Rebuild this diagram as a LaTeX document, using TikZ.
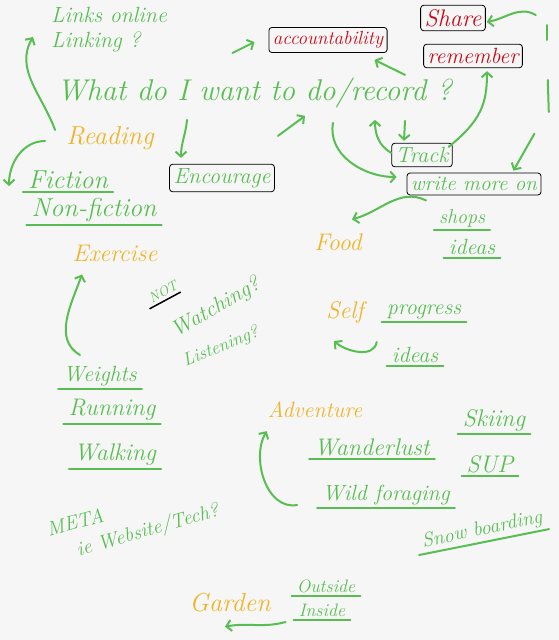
\documentclass[tikz,border=0pt]{standalone}
\usepackage{amsmath}
\usepackage{tikz}
\usetikzlibrary{arrows.meta, positioning}

\definecolor{pen}{RGB}{88,190,82}
\definecolor{hl}{RGB}{240,180,40}
\definecolor{ink}{RGB}{200,10,25}
\definecolor{paper}{RGB}{246,246,246}

\tikzset{
  hw/.style={font=\itshape\fontsize{#1}{#1}\selectfont, inner sep=1pt},
  gr/.style={hw=#1, text=pen},
  yl/.style={hw=#1, text=hl},
  rd/.style={hw=#1, text=ink},
  frame/.style={draw=black, thick, rounded corners=3pt, inner sep=4pt},
  uline/.style={draw=pen, line width=2pt, line cap=round},
  pointer/.style={draw=pen, line width=2pt, line cap=round, -{Straight Barb[length=5pt, width=11pt]}},
}

\begin{document}
\begin{tikzpicture}[x=1pt, y=-1pt]
\fill[paper] (0,0) rectangle (559,640);
\useasboundingbox (0,0) rectangle (559,640);

\node[gr=22, anchor=west] (link1) at (50,15) {Links online};
\node[gr=22, anchor=west] (link2) at (50,42) {Linking ?};
\node[gr=30, anchor=west] (what) at (56,93) {What do I want to do/record ?};

\node[rd=19, frame] (acc) at (328,40) {accountability};
\node[rd=24, frame] (share) at (453,18) {Share};
\node[rd=22, frame] (remem) at (473,56) {remember};

\node[yl=26] (read) at (110,138) {Reading};
\node[gr=26] (fic) at (68,180) {Fiction};
\node[gr=26] (nonfic) at (94,210) {Non-fiction};
\node[gr=22, frame] (enc) at (222,178) {Encourage};
\node[yl=24] (exer) at (115,253) {Exercise};

\node[gr=22, frame] (track) at (422,155) {Track};
\node[gr=21, frame] (wmo) at (474,184) {write more on};

\node[yl=24] (food) at (338,242) {Food};
\node[gr=20] (shops) at (462,218) {shops};
\node[gr=22] (ideasA) at (472,247) {ideas};

\node[yl=24] (self) at (345,312) {Self};
\node[gr=22] (prog) at (424,312) {progress};
\node[gr=22] (ideasB) at (415,355) {ideas};

\node[gr=14, rotate=30] (not) at (163,292) {NOT};
\node[gr=22, rotate=30] (watch) at (216,308) {Watching?};
\node[gr=18, rotate=22] (listen) at (221,347) {Listening?};

\node[gr=22] (weights) at (100,376) {Weights};
\node[gr=24] (running) at (112,410) {Running};
\node[gr=24] (walking) at (115,455) {Walking};

\node[yl=22] (adv) at (315,410) {Adventure};
\node[gr=24] (wander) at (372,447) {Wanderlust};
\node[gr=22] (wild) at (386,495) {Wild foraging};

\node[gr=24] (ski) at (494,420) {Skiing};
\node[gr=24] (sup) at (490,464) {SUP};
\node[gr=20, rotate=12] (snow) at (482,530) {Snow boarding};

\node[gr=20, rotate=15] (meta) at (75,522) {META};
\node[gr=20, rotate=16] (web) at (148,531) {ie Website/Tech?};

\node[yl=26] (garden) at (230,603) {Garden};
\node[gr=18] (outs) at (326,586) {Outside};
\node[gr=18] (ins) at (322,610) {Inside};

\foreach \n in {fic, nonfic, shops, ideasA, prog, ideasB, weights, running, walking, wander, wild, ski, sup, snow, outs, ins}
  \draw[uline] ([xshift=-4pt, yshift=-2pt]\n.south west) -- ([xshift=4pt, yshift=-2pt]\n.south east);

\draw[black, line width=1.5pt, line cap=round] ([xshift=-2pt, yshift=-3pt]not.south west) -- ([yshift=-3pt]not.south east);

\draw[pointer] ([xshift=-10pt, yshift=8pt]read.west) to[out=110, in=-120] ([xshift=-17pt, yshift=5pt]link2.west);
\draw[pointer] ([xshift=-36pt, yshift=-13pt]acc.west) -- ([xshift=-14pt, yshift=-2pt]acc.west);
\draw[pointer] ([xshift=-20pt, yshift=-3pt]read.west) to[out=180, in=90] ([xshift=-18pt, yshift=-6pt]fic.west);
\draw[pointer] ([xshift=-35pt, yshift=44pt]enc.north) to[out=-95, in=90] ([xshift=-41pt, yshift=6pt]enc.north);
\draw[pointer] ([xshift=56pt, yshift=28pt]enc.north) -- ([xshift=83pt, yshift=48pt]enc.north);

\draw[pointer] ([xshift=-17pt, yshift=68pt]track.north) -- ([xshift=-13pt, yshift=-7pt]acc.south east);
\draw[pointer] ([yshift=2pt]track.west) to[out=150, in=-90] ([xshift=-47pt, yshift=23pt]track.north);
\draw[pointer] ([xshift=-17pt, yshift=22pt]track.north) -- ([xshift=-18pt, yshift=2pt]track.north);
\draw[pointer] ([xshift=-4pt, yshift=-4pt]track.north east) .. controls ([xshift=28pt, yshift=22pt]track.north east) and ([xshift=14pt, yshift=-36pt]remem.south) .. ([xshift=14pt, yshift=-3pt]remem.south);
\draw[pointer] ([xshift=50pt, yshift=3pt]share.east) to[out=150, in=10] ([xshift=1pt, yshift=-4pt]share.east);
\draw[uline] ([xshift=61pt, yshift=-7pt]share.east) -- ([xshift=61pt, yshift=-22pt]share.east);
\draw[uline] ([xshift=25pt, yshift=-24pt]remem.east) -- ([xshift=26pt, yshift=-56pt]remem.east);
\draw[pointer] ([xshift=-7pt, yshift=39pt]wmo.north east) -- ([xshift=-28pt, yshift=2pt]wmo.north east);
\draw[pointer] ([xshift=-89pt, yshift=20pt]track.north) to[out=-100, in=180] ([xshift=-10pt, yshift=7pt]wmo.west);

\draw[pointer] ([xshift=-48pt, yshift=-5pt]wmo.south) to[out=155, in=15] ([xshift=14pt, yshift=13pt]food.north);
\draw[pointer] ([xshift=-14pt, yshift=13pt]ideasB.west) to[out=-100, in=-40] ([xshift=-11pt, yshift=-17pt]self.south);

\draw[pointer] ([xshift=-20pt, yshift=10pt]weights.north) to[out=150, in=-110] ([xshift=-33pt, yshift=-12pt]exer.south);
\draw[pointer] ([xshift=-24pt, yshift=-10pt]wild.west) to[out=190, in=-120] ([yshift=-12pt]adv.south west);
\draw[pointer] ([xshift=-12pt, yshift=-12pt]ins.west) to[out=-165, in=10] ([xshift=-5pt, yshift=-13pt]garden.south);
\end{tikzpicture}
\end{document}
